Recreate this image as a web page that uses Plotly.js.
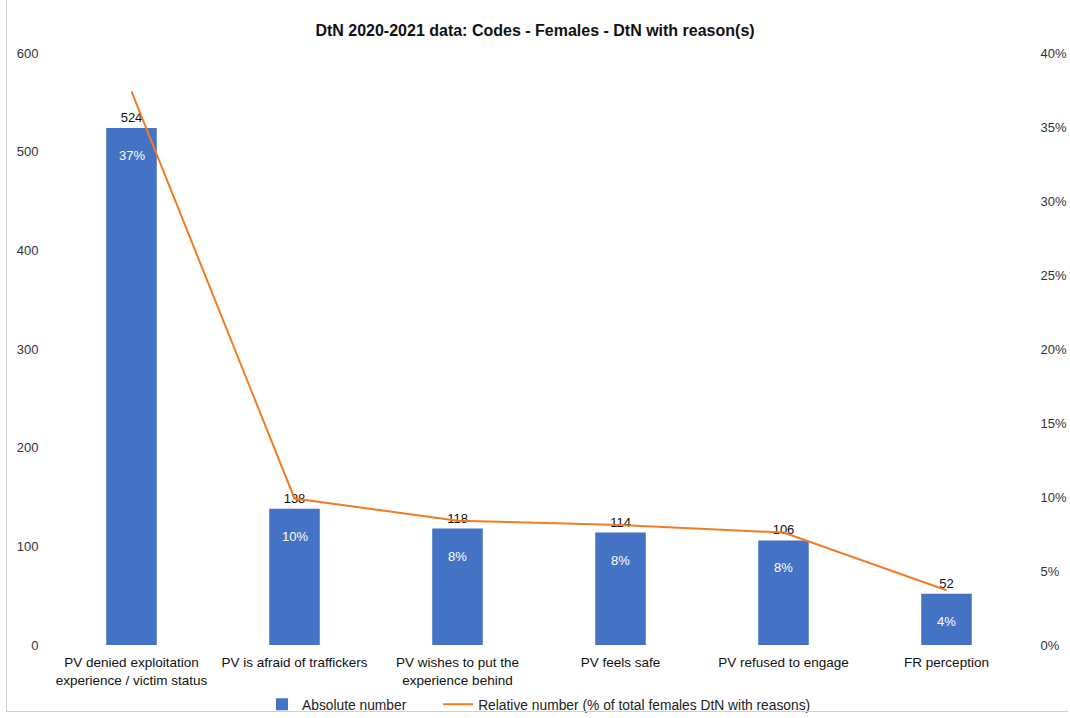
<!DOCTYPE html>
<html>
<head>
<meta charset="utf-8">
<script src="https://cdn.plot.ly/plotly-3.0.1.min.js"></script>
<style>
  html, body { margin: 0; padding: 0; background: #fff; }
  #frame { position: absolute; left: 6px; top: 0; width: 1062px; height: 712px; border-left: 1px solid #d0d0d0; border-bottom: 1px solid #d0d0d0; box-sizing: border-box; pointer-events: none; }
  #chart { width: 1070px; height: 718px; }
</style>
</head>
<body>
<div id="chart"></div>
<div id="frame"></div>
<script>
const categories = [
  "PV denied exploitation<br>experience / victim status",
  "PV is afraid of traffickers",
  "PV wishes to put the<br>experience behind",
  "PV feels safe",
  "PV refused to engage",
  "FR perception"
];
const absoluteNumber = [524, 138, 118, 114, 106, 52];
const relativeNumber = [37.4, 9.9, 8.4, 8.1, 7.6, 3.7];
const percentLabels = ["37%", "10%", "8%", "8%", "8%", "4%"];
const leftTicks = [0, 100, 200, 300, 400, 500, 600];
const rightTicks = [0, 5, 10, 15, 20, 25, 30, 35, 40];

const FONT = "Liberation Sans, Arial, sans-serif";
const PAD = "\u00a0".repeat(7);

const bars = {
  type: "bar",
  name: "Absolute number" + PAD,
  x: categories,
  y: absoluteNumber,
  marker: { color: "#4472C4" },
  text: absoluteNumber.map(String),
  textposition: "outside",
  textfont: { family: FONT, size: 13, color: "#111" },
  cliponaxis: false,
  hoverinfo: "x+y"
};
const line = {
  type: "scatter",
  mode: "lines",
  name: "Relative number (% of total females DtN with reasons)",
  x: categories,
  y: relativeNumber,
  yaxis: "y2",
  line: { color: "#F07C24", width: 2 },
  hoverinfo: "x+y"
};

const annotations = categories.map((c, i) => ({
  x: c, y: absoluteNumber[i], xref: "x", yref: "y",
  text: percentLabels[i], showarrow: false,
  yanchor: "top", yshift: -18,
  font: { family: FONT, size: 13, color: "#ffffff" }
}));

const layout = {
  width: 1070, height: 718,
  margin: { l: 50, r: 42, t: 53, b: 73, autoexpand: false },
  paper_bgcolor: "#ffffff",
  plot_bgcolor: "#ffffff",
  title: {
    text: "<b>DtN 2020-2021 data: Codes - Females - DtN with reason(s)</b>",
    font: { family: FONT, size: 16, color: "#111" },
    x: 0.5, xanchor: "center", yref: "container", y: 0.958, yanchor: "middle"
  },
  bargap: 0.69,
  showlegend: true,
  legend: {
    orientation: "h", x: 0.5, xanchor: "center",
    yref: "container", y: 0.019, yanchor: "middle",
    font: { family: FONT, size: 13.8, color: "#222" },
    traceorder: "normal"
  },
  xaxis: {
    type: "category",
    showgrid: false, zeroline: false, showline: false,
    ticks: "outside", ticklen: 5, tickcolor: "rgba(0,0,0,0)",
    tickfont: { family: FONT, size: 13.5, color: "#111" }
  },
  yaxis: {
    range: [0, 600], tickvals: leftTicks, ticktext: leftTicks.map(String),
    showgrid: false, zeroline: false, showline: false,
    ticks: "outside", ticklen: 8, tickcolor: "rgba(0,0,0,0)",
    tickfont: { family: FONT, size: 13, color: "#333" }
  },
  yaxis2: {
    overlaying: "y", side: "right",
    range: [0, 40], tickvals: rightTicks, ticktext: rightTicks.map(v => v + "%"),
    showgrid: false, zeroline: false, showline: false,
    ticks: "outside", ticklen: 9, tickcolor: "rgba(0,0,0,0)",
    tickfont: { family: FONT, size: 13, color: "#333" }
  },
  annotations: annotations
};

Plotly.newPlot("chart", [bars, line], layout, { displayModeBar: false, responsive: false });
</script>
</body>
</html>
